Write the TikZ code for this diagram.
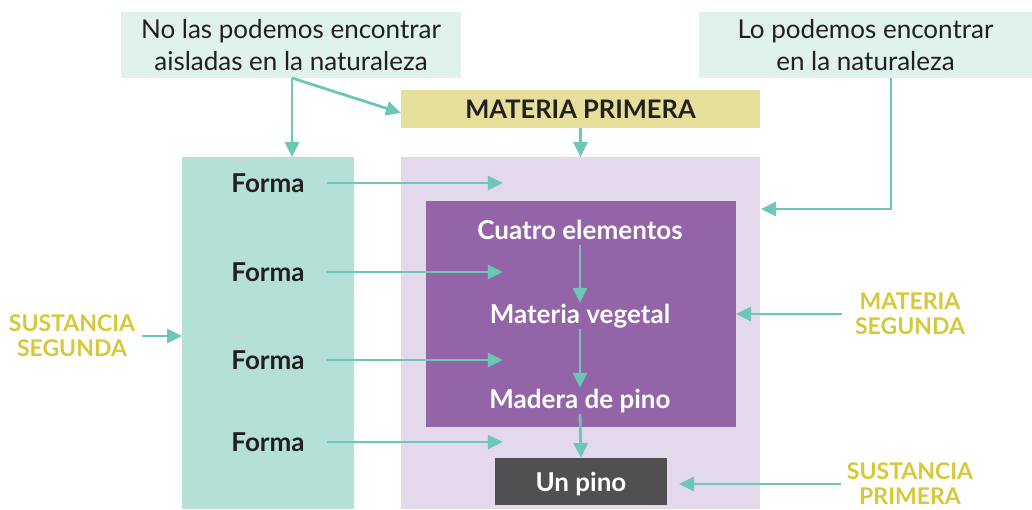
\documentclass[tikz,border=0pt]{standalone}
\usepackage{fontspec}
\setmainfont{Lato}
\usepackage{xcolor}
\usepackage{tikz}
\usetikzlibrary{arrows.meta}

\definecolor{mint}{HTML}{DFF2EE}
\definecolor{teal}{HTML}{B5E0D8}
\definecolor{arr}{HTML}{6CC7B7}
\definecolor{straw}{HTML}{E6DF99}
\definecolor{lav}{HTML}{E4D8EB}
\definecolor{purp}{HTML}{9464A8}
\definecolor{slate}{HTML}{505052}
\definecolor{ochre}{HTML}{D7C83A}
\definecolor{ink}{HTML}{231F20}

\begin{document}
\begin{tikzpicture}[x=1pt,y=-1pt,
		box/.style={inner sep=0pt,outer sep=0pt},
		note/.style={box,fill=mint,text=ink,align=center,font=\fontsize{26}{32}\selectfont},
		lbl/.style={align=center,text=ochre,font=\bfseries\fontsize{23}{25}\selectfont},
		forma/.style={inner ysep=0pt,inner xsep=22pt,text=ink,font=\bfseries\fontsize{26}{28}\selectfont},
		stage/.style={inner sep=0pt,text=white,font=\bfseries\fontsize{26}{28}\selectfont,text height=20pt,text depth=6pt},
		link/.style={arr,line width=2.8pt,-{Triangle[length=15pt,width=14pt]}}]
		\useasboundingbox (0,0) rectangle (1032,509);
		% fondos
		\node[note,minimum width=340pt,minimum height=66pt] (noaisl) at (291,45)
			{No las podemos encontrar\\aisladas en la naturaleza};
		\node[note,minimum width=333pt,minimum height=66pt] (lonat) at (865.5,45)
			{Lo podemos encontrar\\en la naturaleza};
		\node[box,fill=straw,text=ink,font=\bfseries\fontsize{25.5}{28}\selectfont,
			minimum width=359pt,minimum height=38pt] (matprim) at (580.5,109) {MATERIA PRIMERA};
		\node[box,fill=teal,minimum width=172pt,minimum height=352pt] (col) at (268,333) {};
		\node[box,fill=lav,minimum width=359pt,minimum height=352pt] (lav) at (580.5,333) {};
		\node[box,fill=purp,minimum width=310pt,minimum height=226pt] (purp) at (581,314) {};
		\node[box,fill=slate,text=white,font=\bfseries\fontsize{26}{28}\selectfont,text depth=0pt,
			minimum width=172pt,minimum height=47pt] (unpino) at (581,481.5) {Un pino};
		% textos
		\node[stage] (cuatro) at (580,232) {Cuatro elementos};
		\node[stage] (veget) at (580,316) {Materia vegetal};
		\node[stage] (madera) at (580,401) {Madera de pino};
		\node[forma] (f1) at (268,183) {Forma};
		\node[forma] (f2) at (268,272) {Forma};
		\node[forma] (f3) at (268,360) {Forma};
		\node[forma] (f4) at (268,442) {Forma};
		\node[lbl,inner xsep=7pt] (sseg) at (72,336) {SUSTANCIA\\SEGUNDA};
		\node[lbl,inner xsep=13pt] (mseg) at (910,314) {MATERIA\\SEGUNDA};
		\node[lbl,inner xsep=6pt] (sprim) at (910,484) {SUSTANCIA\\PRIMERA};
		% flechas
		\foreach \i in {1,...,4}
			\coordinate (t\i) at ([xshift=176pt]f\i.east);
		\foreach \i in {1,...,4}
			\draw[link] (f\i.east) -- (t\i);
		\draw[link] (cuatro.south) -- (veget.north);
		\draw[link] (veget.south) -- (madera.north);
		\draw[link] (madera.south) -- (unpino.north);
		\draw[link] (matprim.south) -- (lav.north);
		\draw[link] ([xshift=1pt]noaisl.south) -- ([xshift=1pt]noaisl.south |- col.north);
		\draw[link] ([xshift=1pt]noaisl.south) -- ([yshift=-4pt]matprim.west);
		\coordinate (lk) at (891,209);
		\draw[link] (lk |- lonat.south) |- ([xshift=1pt]lav.east |- lk);
		\draw[link] (mseg.west) -- (purp.east |- mseg.west);
		\draw[link,shorten >=12pt] (sprim.west) -- (unpino.east |- sprim.west);
		\draw[link] (sseg.east) -- (col.west |- sseg.east);
	\end{tikzpicture}
\end{document}
